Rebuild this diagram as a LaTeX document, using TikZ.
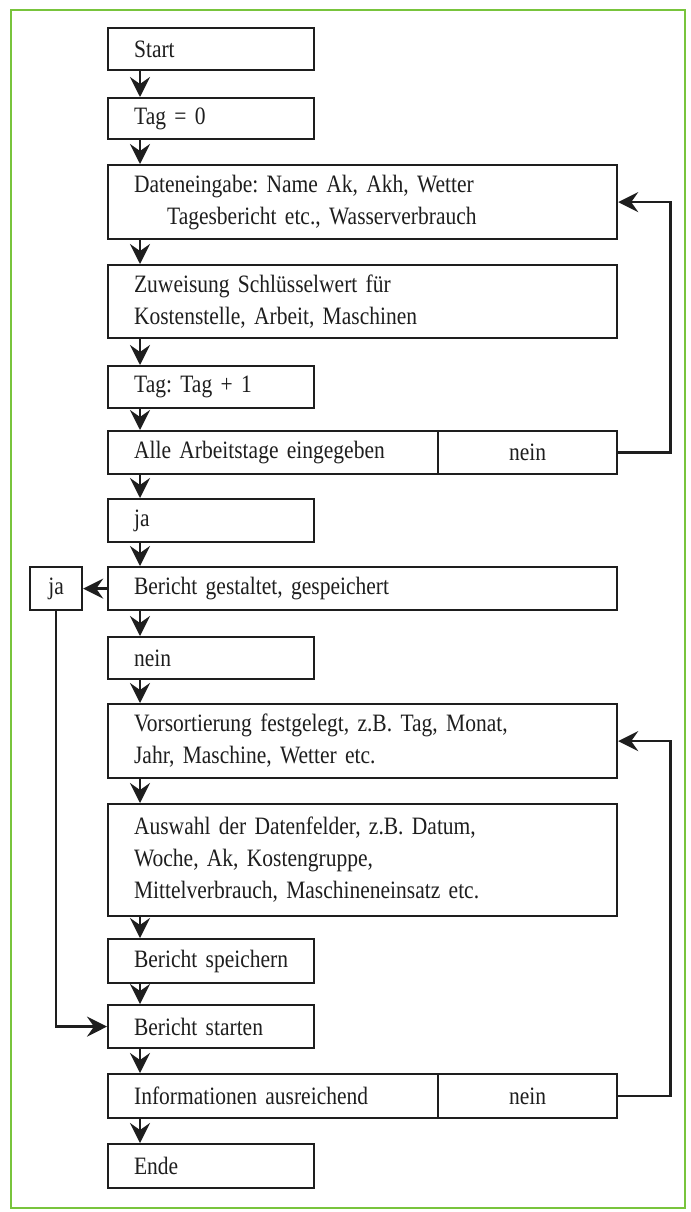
\documentclass[tikz,border=0pt]{standalone}
\usepackage{fontspec}
\setmainfont{Liberation Serif}[FakeStretch=0.86]
\usetikzlibrary{arrows.meta}
\definecolor{frame}{RGB}{120,196,60}
\definecolor{ink}{RGB}{30,30,30}
\frenchspacing
\begin{document}
\begin{tikzpicture}[x=1bp,y=-1bp,
  bx/.style={draw=ink, line width=2.2bp, anchor=north west, inner xsep=26bp, inner ysep=0pt,
    align=left, font=\fontsize{25bp}{32bp}\selectfont, text=ink},
  cbx/.style={bx, inner xsep=0pt, align=center},
  arr/.style={draw=ink, line width=2.6bp, -{Stealth[length=20bp,width=20bp,inset=7bp]}},
  arrv/.style={arr}]
\useasboundingbox (0,0) rectangle (691,1212);
\fill[white] (0,0) rectangle (691,1212);
\draw[frame, line width=2.5bp] (11,10) rectangle (685,1208);

\node[bx, text width=154bp, minimum height=42bp] (start) at (107,27) {\mbox{Start}};
\node[bx, text width=154bp, minimum height=41bp] (tag0) at (107,97) {\mbox{Tag = 0}};
\node[bx, text width=457bp, minimum height=74bp] (dat) at (107,164)
  {Dateneingabe: Name Ak, Akh, Wetter\\\hspace*{33bp}Tagesbericht etc., Wasserverbrauch};
\node[bx, text width=457bp, minimum height=73bp] (zuw) at (107,264)
  {Zuweisung Schlüsselwert für\\Kostenstelle, Arbeit, Maschinen};
\node[bx, text width=154bp, minimum height=42bp] (tag1) at (107,365) {\mbox{Tag: Tag + 1}};
\node[bx, text width=278bp, minimum height=43bp] (alle) at (107,430) {\mbox{Alle Arbeitstage eingegeben}};
\node[cbx, text width=179bp, minimum height=43bp] (nein1) at (437,430) {nein};
\node[bx, text width=154bp, minimum height=43bp] (ja) at (107,498) {\mbox{ja}};
\node[bx, text width=457bp, minimum height=43bp] (bg) at (107,566) {Bericht gestaltet, gespeichert};
\node[cbx, text width=52bp, minimum height=43bp] (jaside) at (29,566) {ja};
\node[bx, text width=154bp, minimum height=42bp] (nein) at (107,636) {\mbox{nein}};
\node[bx, text width=457bp, minimum height=74bp] (vor) at (107,703)
  {Vorsortierung festgelegt, z.B. Tag, Monat,\\Jahr, Maschine, Wetter etc.};
\node[bx, text width=457bp, minimum height=112bp] (aus) at (107,803)
  {Auswahl der Datenfelder, z.B. Datum,\\Woche, Ak, Kostengruppe,\\Mittelverbrauch, Maschineneinsatz etc.};
\node[bx, text width=154bp, minimum height=44bp] (bsp) at (107,938) {\mbox{Bericht speichern}};
\node[bx, text width=154bp, minimum height=43bp] (bst) at (107,1004) {\mbox{Bericht starten}};
\node[bx, text width=278bp, minimum height=44bp] (info) at (107,1073) {\mbox{Informationen ausreichend}};
\node[cbx, text width=179bp, minimum height=44bp] (nein2) at (437,1073) {nein};
\node[bx, text width=154bp, minimum height=44bp] (ende) at (107,1143) {\mbox{Ende}};

\foreach \a/\b in {start/tag0, tag0/dat, dat/zuw, zuw/tag1, tag1/alle, alle/ja, ja/bg,
  bg/nein, nein/vor, vor/aus, aus/bsp, bsp/bst, bst/info, info/ende}
  \draw[arrv] ([xshift=33bp]\a.south west) -- ([xshift=33bp]\b.north west);

\draw[arr] (nein1.east) -- ++(52,0) |- (dat.east);
\draw[arr] (nein2.east) -- ++(52,0) |- (vor.east);
\draw[arr] (bg.west) -- (jaside.east);
\draw[arr] (jaside.south) |- (bst.west);
\end{tikzpicture}
\end{document}
